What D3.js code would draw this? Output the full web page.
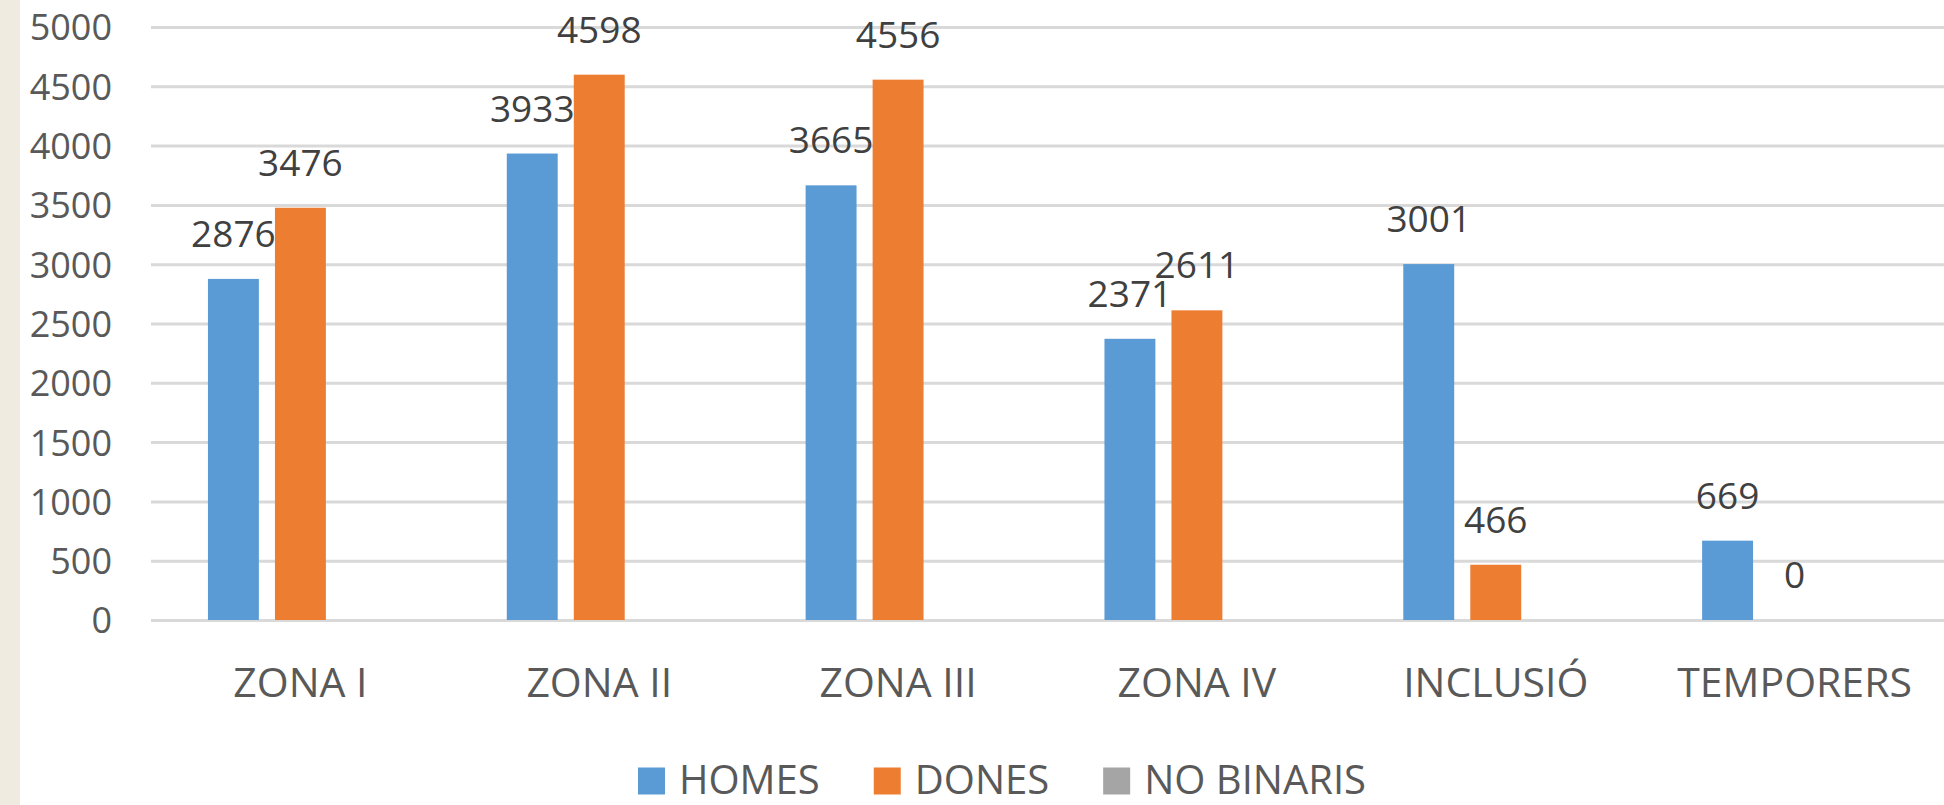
<!DOCTYPE html>
<html>
<head>
<meta charset="utf-8">
<script src="https://cdn.jsdelivr.net/npm/d3@7"></script>
<style>
  body { margin: 0; background: #ffffff; }
  svg text { font-family: "Open Sans", "Noto Sans", sans-serif; }
</style>
</head>
<body>
<div id="chart"></div>
<script>
// Data
var categories = ["ZONA I", "ZONA II", "ZONA III", "ZONA IV", "INCLUSIÓ", "TEMPORERS"];
var seriesNames = ["HOMES", "DONES", "NO BINARIS"];
var homes = [2876, 3933, 3665, 2371, 3001, 669];
var dones = [3476, 4598, 4556, 2611, 466, 0];
var noBinaris = [null, null, null, null, null, null];
var yTicks = [0, 500, 1000, 1500, 2000, 2500, 3000, 3500, 4000, 4500, 5000];

var colors = { "HOMES": "#5b9bd5", "DONES": "#ed7d31", "NO BINARIS": "#a5a5a5" };

// Size
var svgWidth = 1944;
var svgHeight = 805;

var margin = { top: 27, right: 0, bottom: 185, left: 151 };
var width = svgWidth - margin.left - margin.right;
var height = svgHeight - margin.top - margin.bottom;

var svg = d3.select("#chart")
  .append("svg")
  .attr("width", svgWidth)
  .attr("height", svgHeight);

// beige strip on the left edge
svg.append("rect")
  .attr("x", 0)
  .attr("y", 0)
  .attr("width", 20)
  .attr("height", svgHeight)
  .attr("fill", "#efebe1");

var chartGroup = svg.append("g")
  .attr("transform", `translate(${margin.left}, ${margin.top})`);

// build rows for the grouped bars
var rows = categories.map(function(c, i) {
  return { category: c, values: [
    { key: "HOMES", value: homes[i] },
    { key: "DONES", value: dones[i] },
    { key: "NO BINARIS", value: noBinaris[i] }
  ] };
});

// Scales
var x0 = d3.scaleBand()
  .domain(categories)
  .range([0, width]);

var x1 = d3.scaleBand()
  .domain(seriesNames)
  .range([0, x0.bandwidth()])
  .paddingInner(0.24)
  .paddingOuter(0.85);

var y = d3.scaleLinear()
  .domain([0, 5000])
  .range([height, 0]);

// Y axis with gridlines
var leftAxis = d3.axisLeft(y)
  .tickValues(yTicks)
  .tickFormat(d3.format("d"))
  .tickSize(-width)
  .tickPadding(39);

var yAxis = chartGroup.append("g").call(leftAxis);
yAxis.select(".domain").remove();
yAxis.selectAll(".tick line")
  .attr("stroke", "#d9d9d9")
  .attr("stroke-width", 3);
yAxis.selectAll(".tick text")
  .attr("fill", "#595959")
  .attr("font-size", 36)
  .attr("dy", "0.36em");

// X axis labels
var bottomAxis = d3.axisBottom(x0)
  .tickSize(0)
  .tickPadding(48);

var xAxis = chartGroup.append("g")
  .attr("transform", `translate(0, ${height})`)
  .call(bottomAxis);
xAxis.select(".domain").remove();
xAxis.selectAll(".tick text")
  .attr("fill", "#595959")
  .attr("font-size", 41);

// Bars
var groups = chartGroup.append("g")
  .selectAll(".group")
  .data(rows)
  .enter()
  .append("g")
  .attr("transform", d => `translate(${x0(d.category)}, 0)`);

groups.selectAll("rect")
  .data(d => d.values.filter(v => v.value !== null))
  .enter()
  .append("rect")
  .attr("x", d => x1(d.key))
  .attr("y", d => y(d.value))
  .attr("width", x1.bandwidth())
  .attr("height", d => height - y(d.value))
  .attr("fill", d => colors[d.key]);

// Value labels
groups.selectAll(".valueText")
  .data(d => d.values.filter(v => v.value !== null))
  .enter()
  .append("text")
  .attr("class", "valueText")
  .attr("x", d => x1(d.key) + x1.bandwidth() / 2)
  .attr("y", d => y(d.value) - 32)
  .attr("text-anchor", "middle")
  .attr("fill", "#404040")
  .attr("font-size", 37)
  .text(d => d.value);

// Legend
var legend = svg.append("g")
  .attr("transform", "translate(638, 781)");

var lx = 0;
seriesNames.forEach(function(name) {
  var item = legend.append("g").attr("transform", `translate(${lx}, 0)`);
  item.append("rect")
    .attr("x", 0)
    .attr("y", -13.5)
    .attr("width", 27)
    .attr("height", 27)
    .attr("fill", colors[name]);
  var t = item.append("text")
    .attr("x", 41)
    .attr("y", 13)
    .attr("fill", "#595959")
    .attr("font-size", 40)
    .text(name);
  lx += 41 + t.node().getComputedTextLength() + 54;
});
</script>
</body>
</html>
